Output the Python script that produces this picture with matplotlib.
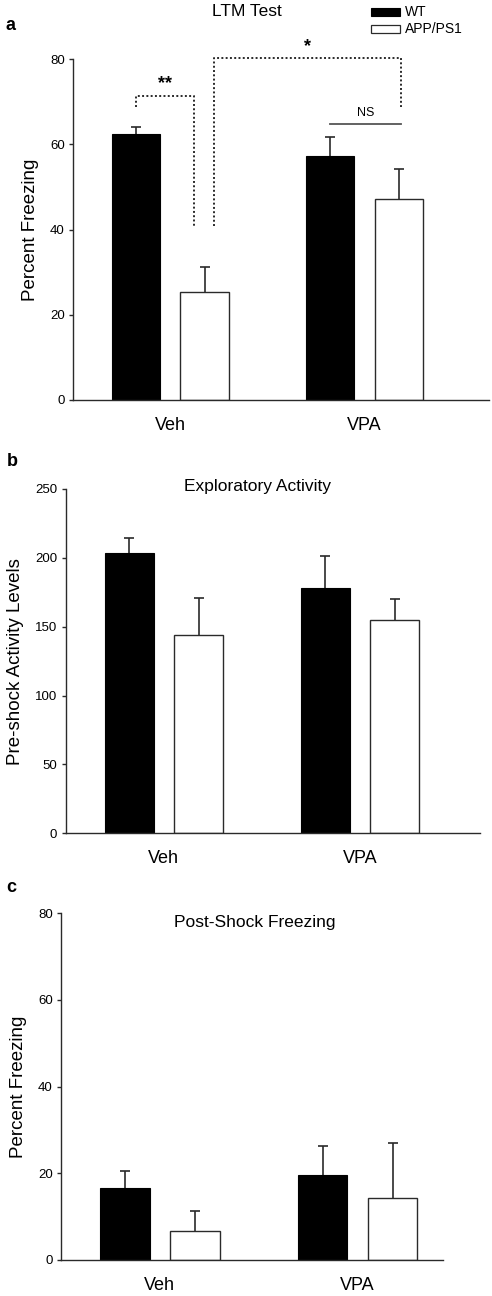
"""
Three-panel bar chart: LTM test, exploratory activity and post-shock freezing
for WT vs APP/PS1 mice treated with vehicle or VPA.
"""

import numpy as np
import matplotlib.pyplot as plt
from matplotlib.patches import Rectangle

plt.rcParams["font.family"] = ["Liberation Sans", "DejaVu Sans"]

# Data
groups = ["Veh", "VPA"]
series = ["WT", "APP/PS1"]

ltm_wt = [62.4, 57.3]
ltm_wt_err = [1.8, 4.4]
ltm_app = [25.3, 47.2]
ltm_app_err = [6.0, 7.1]

expl_wt = [203.8, 178.4]
expl_wt_err = [10.4, 23.2]
expl_app = [144.0, 154.9]
expl_app_err = [26.7, 15.0]

post_wt = [16.5, 19.6]
post_wt_err = [4.1, 6.7]
post_app = [6.7, 14.2]
post_app_err = [4.5, 12.8]

# significance brackets in panel a (heights in % freezing)
sig_low = 40.8
sig_pair_top = 71.4
sig_pair_left = 68.7
sig_cross_top = 80.3
sig_cross_right = 68.7
ns_height = 64.7

OFFSET = 0.177
WIDTH = 0.25
EDGE = "#2a2a2a"


def upper_errorbars(ax, x, y, err):
    """Only the upper half of the error bar, with a cap on top."""
    top = np.array(y) + np.array(err)
    ax.vlines(x, y, top, color=EDGE, lw=1.2, zorder=1)
    ax.plot(x, top, ls="none", marker="_", markersize=7.5, mew=1.2, color=EDGE, zorder=1)


def bar_panel(fig, rect, wt, wt_err, app, app_err, ylim, yticks, ylabel,
              xmax, tick_size=9):
    ax = fig.add_axes(rect)
    x = np.arange(len(groups))
    upper_errorbars(ax, x - OFFSET, wt, wt_err)
    upper_errorbars(ax, x + OFFSET, app, app_err)
    ax.bar(x - OFFSET, wt, WIDTH, color="black", edgecolor="black", lw=0.8, zorder=2)
    ax.bar(x + OFFSET, app, WIDTH, color="white", edgecolor=EDGE, lw=1.0, zorder=2)
    ax.set_xlim(-0.5, xmax)
    ax.set_ylim(*ylim)
    ax.set_yticks(yticks)
    ax.set_xticks(x)
    ax.set_xticklabels(groups, fontsize=13)
    ax.tick_params(axis="x", length=0, pad=12)
    ax.tick_params(axis="y", length=3, width=1, labelsize=tick_size, pad=3, color=EDGE)
    for side in ["top", "right"]:
        ax.spines[side].set_visible(False)
    for side in ["left", "bottom"]:
        ax.spines[side].set_color(EDGE)
        ax.spines[side].set_linewidth(1.0)
    ax.set_ylabel(ylabel, fontsize=13.5, labelpad=8)
    return ax


fig = plt.figure(figsize=(4.92, 12.96), dpi=100)
W, H = 492, 1296

# Panel a
ax_a = bar_panel(fig, [0.1484, 0.6914, 0.8455, 0.2629], ltm_wt, ltm_wt_err,
                 ltm_app, ltm_app_err, (0, 80), [0, 20, 40, 60, 80],
                 "Percent Freezing", 1.64, tick_size=9.5)
fig.text(247 / W, 1 - 11 / H, "LTM Test", fontsize=12.5, ha="center", va="center")

dot = dict(color=EDGE, lw=1.4, ls=(0, (1, 1.2)), clip_on=False)
x_wt_veh = 0 - OFFSET
x_pair_right = 0.12
x_cross_left = 0.224
x_cross_right = 1.189
ax_a.plot([x_wt_veh, x_wt_veh, x_pair_right, x_pair_right],
          [sig_pair_left, sig_pair_top, sig_pair_top, sig_low], **dot)
ax_a.plot([x_cross_left, x_cross_left, x_cross_right, x_cross_right],
          [sig_low, sig_cross_top, sig_cross_top, sig_cross_right], **dot)
ax_a.text((x_wt_veh + x_pair_right) / 2, sig_pair_top + 0.8, "**", ha="center",
          va="bottom", fontsize=13, fontweight="bold")
ax_a.text((x_cross_left + x_cross_right) / 2, sig_cross_top + 0.6, "*", ha="center",
          va="bottom", fontsize=13, fontweight="bold", clip_on=False)
ax_a.plot([1 - OFFSET, x_cross_right], [ns_height, ns_height], color="#555555", lw=1.3)
ax_a.text((1 - OFFSET + x_cross_right) / 2, ns_height + 1.2, "NS", ha="center",
          va="bottom", fontsize=9)

# legend drawn by hand at the top right
fig.add_artist(Rectangle((371 / W, 1 - 16 / H), 29 / W, 8 / H, transform=fig.transFigure,
                         facecolor="black", edgecolor="black", lw=0.8))
fig.add_artist(Rectangle((371 / W, 1 - 33 / H), 29 / W, 8 / H, transform=fig.transFigure,
                         facecolor="white", edgecolor=EDGE, lw=0.9))
fig.text(405 / W, 1 - 12 / H, series[0], fontsize=10, ha="left", va="center")
fig.text(405 / W, 1 - 29 / H, series[1], fontsize=10, ha="left", va="center")
fig.text(10 / W, 1 - 25 / H, "a", fontsize=13, fontweight="bold", ha="center", va="center")

# Panel b
bar_panel(fig, [0.1335, 0.357, 0.842, 0.2657], expl_wt, expl_wt_err,
          expl_app, expl_app_err, (0, 250), [0, 50, 100, 150, 200, 250],
          "Pre-shock Activity Levels", 1.611, tick_size=9.5)
fig.text(258 / W, 1 - 486 / H, "Exploratory Activity", fontsize=12.5,
         ha="center", va="center")
fig.text(12 / W, 1 - 462 / H, "b", fontsize=13, fontweight="bold", ha="center", va="center")

# Panel c
bar_panel(fig, [0.124, 0.0278, 0.7758, 0.2675], post_wt, post_wt_err,
          post_app, post_app_err, (0, 80), [0, 20, 40, 60, 80],
          "Percent Freezing", 1.43, tick_size=9.5)
fig.text(255 / W, 1 - 923 / H, "Post-Shock Freezing", fontsize=12.5,
         ha="center", va="center")
fig.text(11 / W, 1 - 888 / H, "c", fontsize=13, fontweight="bold", ha="center", va="center")

fig.savefig("out.png", dpi=100)
